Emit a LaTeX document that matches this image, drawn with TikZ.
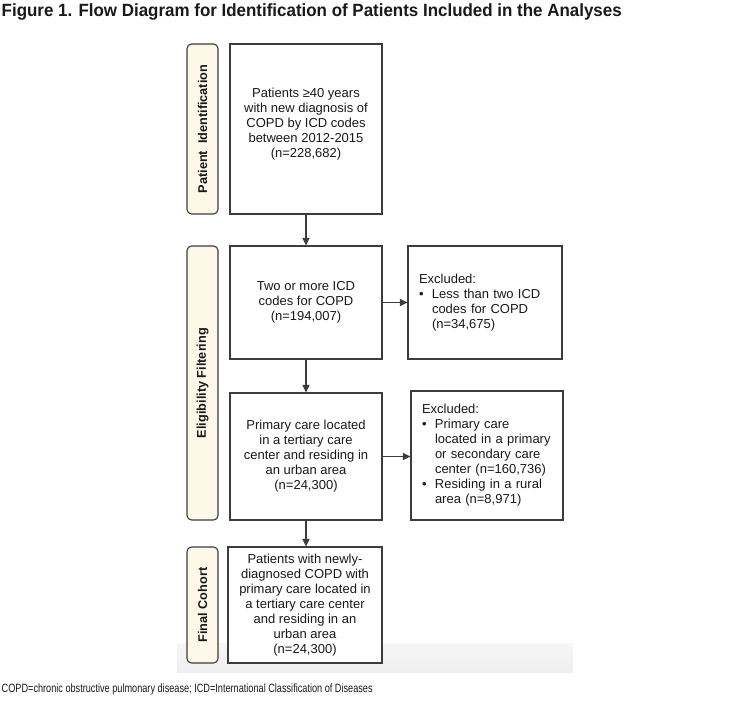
\documentclass[tikz,border=0pt]{standalone}
\usepackage{fontspec}
\setmainfont{Liberation Sans}
\usepackage{graphicx}
\usetikzlibrary{arrows.meta}
\definecolor{stagecream}{RGB}{253,248,232}
\definecolor{framegray}{RGB}{60,60,60}
\definecolor{inkgray}{RGB}{25,25,25}
\newcommand{\exclitem}[1]{\makebox[13pt][l]{\textbullet}#1}
\newcommand{\exclcont}[1]{\hspace*{13pt}#1}

\begin{document}
\begin{tikzpicture}[x=1pt,y=-1pt,every node/.style={text=inkgray,inner sep=0pt},
 stagebox/.style={draw=framegray,fill=stagecream,line width=1.1pt,rounded corners=4.5pt,rotate=90,minimum height=31pt,font=\bfseries\fontsize{12.7}{14}\selectfont},
 flowbox/.style={draw=framegray,fill=white,line width=1.1pt,align=center,font=\fontsize{13}{15}\selectfont},
 exclbox/.style={draw=framegray,fill=white,line width=1.1pt,align=left,inner xsep=11pt,font=\fontsize{13}{15}\selectfont},
 flowarrow/.style={draw=framegray,line width=1.1pt,-{Triangle[length=7.5pt,width=7pt]}}]
\useasboundingbox (0,0) rectangle (750,703);
\shade[top color=gray!7,bottom color=gray!13] (177,643) rectangle (573,672);
\node[anchor=base west] (figtitle) at (1.5,16.7) {\resizebox{620pt}{\height}{\bfseries\fontsize{17.7}{20}\selectfont Figure 1. Flow Diagram for Identification of Patients Included in the Analyses}};
\node[stagebox,minimum width=170pt] (stageid) at (202.5,129) {Patient\ \ Identification};
\node[stagebox,minimum width=274pt] (stageelig) at (202.5,383) {Eligibility\ Filtering};
\node[stagebox,minimum width=116pt] (stagefinal) at (202.5,605) {Final Cohort};
\node[flowbox,minimum width=152pt,minimum height=170pt] (idbox) at (306,129) {Patients ≥40 years\\with new diagnosis of\\COPD by ICD codes\\between 2012-2015\\(n=228,682)\\[-3pt]\mbox{}};
\node[flowbox,minimum width=152pt,minimum height=113pt] (eligbox) at (306,302.5) {Two or more ICD\\codes for COPD\\(n=194,007)};
\node[exclbox,text width=132pt,minimum height=113pt] (exclone) at (485,302.5) {Excluded:\\\exclitem{Less than two ICD}\\\exclcont{codes for COPD}\\\exclcont{(n=34,675)}};
\node[flowbox,minimum width=152pt,minimum height=127pt] (carebox) at (306,456.5) {Primary care located\\in a tertiary care\\center and residing in\\an urban area\\(n=24,300)};
\node[exclbox,text width=130pt,minimum height=129pt] (excltwo) at (487,455.5) {Excluded:\\\exclitem{Primary care}\\\exclcont{located in a primary}\\\exclcont{or secondary care}\\\exclcont{center (n=160,736)}\\\exclitem{Residing in a rural}\\\exclcont{area (n=8,971)}};
\node[flowbox,minimum width=154pt,minimum height=116pt] (cohortbox) at (305,605) {Patients with newly-\\diagnosed COPD with\\primary care located in\\a tertiary care center\\and residing in an\\urban area\\(n=24,300)};
\draw[flowarrow] (idbox.south) -- (eligbox.north);
\draw[flowarrow] (eligbox.east) -- (exclone.west);
\draw[flowarrow] (eligbox.south) -- (carebox.north);
\draw[flowarrow] (carebox.east) -- (carebox.east -| excltwo.west);
\draw[flowarrow] (carebox.south) -- (carebox.south |- cohortbox.north);
\node[anchor=base west] (footnote) at (1.5,692.7) {\resizebox{371pt}{\height}{\fontsize{12}{14}\selectfont COPD=chronic obstructive pulmonary disease; ICD=International Classification of Diseases}};
\end{tikzpicture}
\end{document}
